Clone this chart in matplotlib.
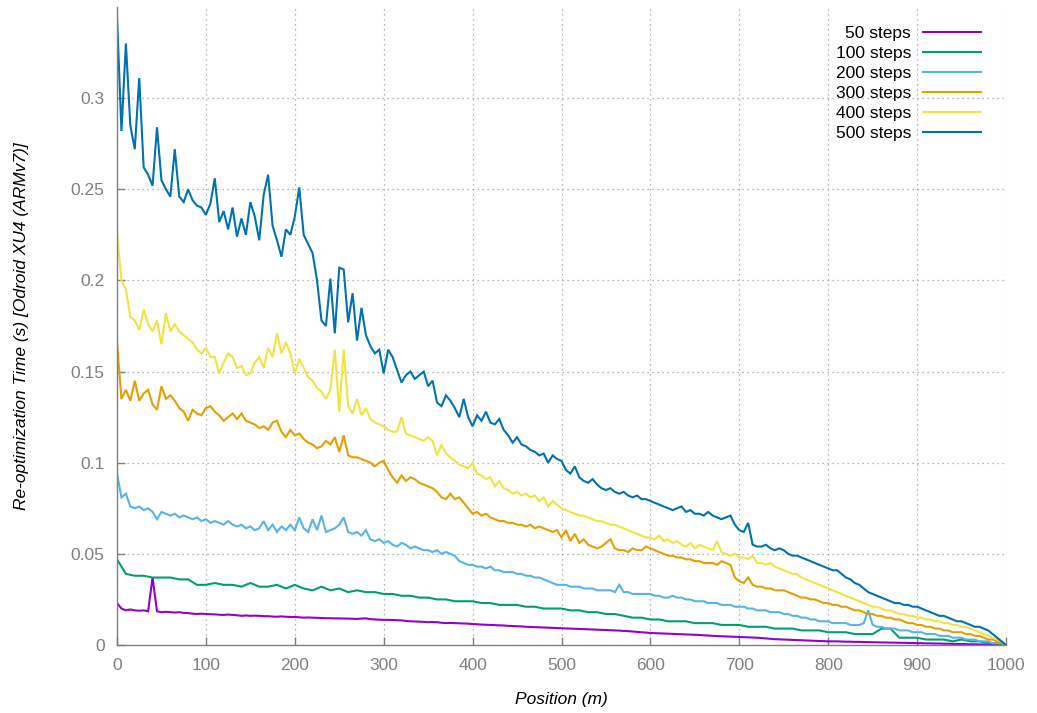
import numpy as np
import matplotlib
matplotlib.use("Agg")
import matplotlib.pyplot as plt

plt.rcParams['font.family'] = ['Liberation Sans', 'DejaVu Sans']

# positions (m)
pos_fine = np.arange(0, 1001, 5)
pos_coarse = np.arange(0, 1001, 10)

labels = ["50 steps", "100 steps", "200 steps", "300 steps", "400 steps", "500 steps"]
colors = ["#9400d3", "#009e73", "#56b4e9", "#e69f00", "#f0e442", "#0072b2"]

steps500 = [
    0.345, 0.282, 0.330, 0.285, 0.272, 0.311, 0.262, 0.258, 0.252, 0.284,
    0.255, 0.250, 0.246, 0.272, 0.246, 0.243, 0.250, 0.244, 0.241, 0.240,
    0.236, 0.242, 0.256, 0.232, 0.238, 0.228, 0.240, 0.224, 0.234, 0.225,
    0.243, 0.235, 0.222, 0.247, 0.258, 0.230, 0.222, 0.213, 0.228, 0.225,
    0.235, 0.251, 0.225, 0.220, 0.215, 0.200, 0.178, 0.175, 0.201, 0.171,
    0.207, 0.206, 0.177, 0.193, 0.167, 0.185, 0.170, 0.164, 0.160, 0.162,
    0.149, 0.162, 0.158, 0.151, 0.144, 0.148, 0.150, 0.146, 0.148, 0.150,
    0.142, 0.145, 0.133, 0.131, 0.137, 0.134, 0.130, 0.125, 0.135, 0.125,
    0.120, 0.126, 0.123, 0.128, 0.122, 0.121, 0.124, 0.118, 0.115, 0.111,
    0.114, 0.110, 0.109, 0.107, 0.106, 0.104, 0.105, 0.100, 0.104, 0.102,
    0.101, 0.096, 0.094, 0.098, 0.092, 0.090, 0.089, 0.091, 0.088, 0.086,
    0.085, 0.086, 0.084, 0.083, 0.084, 0.082, 0.081, 0.082, 0.080, 0.080,
    0.079, 0.078, 0.077, 0.076, 0.075, 0.074, 0.075, 0.076, 0.073, 0.074,
    0.072, 0.072, 0.071, 0.073, 0.071, 0.070, 0.069, 0.070, 0.071, 0.066,
    0.063, 0.062, 0.067, 0.055, 0.054, 0.054, 0.055, 0.053, 0.052, 0.053,
    0.052, 0.050, 0.049, 0.049, 0.048, 0.047, 0.046, 0.045, 0.044, 0.043,
    0.042, 0.041, 0.041, 0.039, 0.037, 0.036, 0.034, 0.033, 0.031, 0.029,
    0.028, 0.027, 0.026, 0.025, 0.024, 0.023, 0.023, 0.022, 0.022, 0.021,
    0.021, 0.020, 0.019, 0.018, 0.017, 0.016, 0.016, 0.015, 0.014, 0.013,
    0.013, 0.012, 0.011, 0.010, 0.010, 0.009, 0.008, 0.006, 0.004, 0.002,
    0.000,
]

steps400 = [
    0.226, 0.200, 0.195, 0.180, 0.178, 0.173, 0.184, 0.176, 0.172, 0.178,
    0.165, 0.182, 0.172, 0.176, 0.172, 0.170, 0.168, 0.166, 0.162, 0.160,
    0.163, 0.158, 0.158, 0.149, 0.155, 0.160, 0.158, 0.152, 0.153, 0.148,
    0.149, 0.155, 0.158, 0.152, 0.163, 0.158, 0.171, 0.160, 0.166, 0.160,
    0.149, 0.157, 0.152, 0.147, 0.145, 0.141, 0.139, 0.135, 0.140, 0.162,
    0.128, 0.162, 0.131, 0.127, 0.135, 0.126, 0.130, 0.124, 0.122, 0.121,
    0.120, 0.118, 0.117, 0.117, 0.125, 0.116, 0.115, 0.114, 0.113, 0.112,
    0.114, 0.112, 0.104, 0.110, 0.105, 0.103, 0.101, 0.099, 0.098, 0.097,
    0.100, 0.094, 0.093, 0.091, 0.092, 0.087, 0.090, 0.086, 0.085, 0.083,
    0.084, 0.082, 0.083, 0.081, 0.082, 0.079, 0.081, 0.076, 0.079, 0.077,
    0.075, 0.074, 0.073, 0.072, 0.071, 0.071, 0.070, 0.069, 0.068, 0.068,
    0.067, 0.066, 0.066, 0.065, 0.064, 0.063, 0.062, 0.061, 0.060, 0.059,
    0.059, 0.058, 0.060, 0.057, 0.058, 0.056, 0.057, 0.055, 0.054, 0.056,
    0.053, 0.055, 0.054, 0.053, 0.052, 0.057, 0.051, 0.050, 0.049, 0.050,
    0.048, 0.048, 0.047, 0.049, 0.045, 0.045, 0.044, 0.045, 0.043, 0.042,
    0.041, 0.040, 0.039, 0.039, 0.037, 0.036, 0.035, 0.034, 0.033, 0.032,
    0.031, 0.030, 0.029, 0.028, 0.027, 0.026, 0.025, 0.024, 0.023, 0.022,
    0.021, 0.021, 0.020, 0.019, 0.019, 0.018, 0.017, 0.017, 0.016, 0.016,
    0.015, 0.015, 0.014, 0.014, 0.013, 0.013, 0.012, 0.012, 0.011, 0.011,
    0.010, 0.010, 0.009, 0.008, 0.007, 0.006, 0.005, 0.004, 0.003, 0.002,
    0.000,
]

steps300 = [
    0.166, 0.135, 0.140, 0.134, 0.145, 0.134, 0.138, 0.140, 0.132, 0.129,
    0.142, 0.135, 0.137, 0.134, 0.130, 0.128, 0.123, 0.129, 0.127, 0.126,
    0.130, 0.131, 0.128, 0.126, 0.123, 0.125, 0.127, 0.124, 0.127, 0.123,
    0.122, 0.121, 0.119, 0.120, 0.118, 0.122, 0.123, 0.117, 0.114, 0.118,
    0.115, 0.116, 0.113, 0.111, 0.110, 0.108, 0.109, 0.112, 0.110, 0.114,
    0.106, 0.115, 0.104, 0.103, 0.103, 0.102, 0.101, 0.100, 0.098, 0.100,
    0.101, 0.096, 0.092, 0.089, 0.093, 0.090, 0.092, 0.091, 0.089, 0.088,
    0.087, 0.086, 0.084, 0.081, 0.080, 0.083, 0.080, 0.081, 0.078, 0.075,
    0.072, 0.073, 0.071, 0.072, 0.070, 0.069, 0.068, 0.068, 0.067, 0.067,
    0.066, 0.066, 0.065, 0.066, 0.064, 0.065, 0.064, 0.063, 0.062, 0.063,
    0.059, 0.063, 0.057, 0.061, 0.056, 0.058, 0.055, 0.054, 0.053, 0.054,
    0.056, 0.058, 0.053, 0.052, 0.052, 0.051, 0.053, 0.052, 0.052, 0.054,
    0.053, 0.052, 0.051, 0.050, 0.049, 0.049, 0.048, 0.048, 0.047, 0.047,
    0.046, 0.046, 0.045, 0.045, 0.045, 0.044, 0.046, 0.045, 0.044, 0.037,
    0.035, 0.034, 0.037, 0.033, 0.032, 0.032, 0.031, 0.031, 0.030, 0.030,
    0.030, 0.029, 0.028, 0.027, 0.026, 0.026, 0.025, 0.025, 0.024, 0.023,
    0.023, 0.022, 0.022, 0.021, 0.021, 0.020, 0.019, 0.019, 0.018, 0.017,
    0.017, 0.016, 0.016, 0.015, 0.015, 0.014, 0.014, 0.013, 0.012, 0.012,
    0.011, 0.011, 0.010, 0.010, 0.009, 0.009, 0.008, 0.008, 0.007, 0.007,
    0.007, 0.006, 0.006, 0.005, 0.005, 0.004, 0.003, 0.003, 0.002, 0.001,
    0.000,
]

steps200 = [
    0.094, 0.081, 0.083, 0.076, 0.075, 0.076, 0.074, 0.075, 0.073, 0.069,
    0.073, 0.072, 0.071, 0.072, 0.070, 0.071, 0.070, 0.069, 0.070, 0.068,
    0.069, 0.067, 0.068, 0.067, 0.066, 0.068, 0.066, 0.065, 0.066, 0.064,
    0.065, 0.063, 0.064, 0.068, 0.063, 0.066, 0.062, 0.065, 0.063, 0.066,
    0.063, 0.070, 0.064, 0.062, 0.069, 0.063, 0.071, 0.062, 0.063, 0.064,
    0.066, 0.070, 0.062, 0.061, 0.062, 0.060, 0.063, 0.058, 0.057, 0.058,
    0.056, 0.057, 0.055, 0.054, 0.056, 0.055, 0.053, 0.054, 0.053, 0.052,
    0.052, 0.051, 0.052, 0.050, 0.051, 0.050, 0.049, 0.046, 0.045, 0.044,
    0.044, 0.043, 0.043, 0.042, 0.043, 0.041, 0.041, 0.040, 0.040, 0.040,
    0.039, 0.039, 0.038, 0.038, 0.037, 0.037, 0.036, 0.035, 0.034, 0.033,
    0.033, 0.033, 0.032, 0.032, 0.032, 0.031, 0.031, 0.031, 0.030, 0.030,
    0.030, 0.030, 0.029, 0.033, 0.029, 0.029, 0.028, 0.028, 0.028, 0.028,
    0.028, 0.027, 0.027, 0.026, 0.026, 0.027, 0.026, 0.026, 0.025, 0.025,
    0.024, 0.024, 0.024, 0.023, 0.023, 0.023, 0.022, 0.022, 0.022, 0.021,
    0.021, 0.021, 0.020, 0.020, 0.019, 0.019, 0.019, 0.018, 0.018, 0.018,
    0.017, 0.017, 0.016, 0.016, 0.015, 0.015, 0.014, 0.014, 0.013, 0.013,
    0.013, 0.012, 0.012, 0.012, 0.012, 0.011, 0.011, 0.011, 0.012, 0.019,
    0.011, 0.010, 0.010, 0.009, 0.009, 0.009, 0.008, 0.008, 0.008, 0.007,
    0.007, 0.007, 0.006, 0.006, 0.006, 0.005, 0.005, 0.005, 0.004, 0.004,
    0.004, 0.003, 0.003, 0.003, 0.002, 0.002, 0.002, 0.001, 0.001, 0.001,
    0.000,
]

steps100 = [
    0.047, 0.039, 0.038, 0.038, 0.037, 0.037, 0.037, 0.036, 0.036, 0.033,
    0.033, 0.034, 0.033, 0.033, 0.032, 0.034, 0.032, 0.032, 0.033, 0.031,
    0.033, 0.031, 0.030, 0.032, 0.030, 0.031, 0.029, 0.030, 0.029, 0.029,
    0.028, 0.028, 0.027, 0.027, 0.026, 0.026, 0.025, 0.025, 0.024, 0.024,
    0.024, 0.023, 0.023, 0.022, 0.022, 0.022, 0.021, 0.021, 0.020, 0.020,
    0.020, 0.019, 0.019, 0.018, 0.018, 0.017, 0.017, 0.016, 0.015, 0.015,
    0.014, 0.014, 0.013, 0.013, 0.013, 0.012, 0.012, 0.012, 0.011, 0.011,
    0.011, 0.010, 0.010, 0.010, 0.009, 0.009, 0.009, 0.008, 0.008, 0.008,
    0.007, 0.007, 0.007, 0.006, 0.006, 0.006, 0.009, 0.009, 0.004, 0.004,
    0.004, 0.003, 0.003, 0.003, 0.002, 0.003, 0.002, 0.002, 0.001, 0.001,
    0.000,
]

steps50 = [
    0.023, 0.020, 0.019, 0.0195, 0.019, 0.0188, 0.019, 0.0185, 0.037, 0.0185,
    0.018, 0.0182, 0.018, 0.0178, 0.018, 0.0176, 0.0175, 0.0172, 0.017, 0.0172,
    0.017, 0.0169, 0.0168, 0.0166, 0.0165, 0.0167, 0.0165, 0.0163, 0.016, 0.0162,
    0.016, 0.0161, 0.016, 0.0158, 0.0158, 0.0156, 0.0155, 0.0157, 0.0155, 0.0154,
    0.0154, 0.0152, 0.015, 0.0151, 0.015, 0.0149, 0.0148, 0.0147, 0.0147, 0.0146,
    0.0146, 0.0145, 0.0145, 0.0144, 0.0143, 0.0145, 0.0146, 0.0142, 0.014, 0.0139,
    0.0138, 0.0138, 0.0137, 0.0136, 0.0135, 0.0132, 0.013, 0.0129, 0.0128, 0.0127,
    0.0125, 0.0126, 0.0125, 0.0122, 0.012, 0.0121, 0.012, 0.0119, 0.0118, 0.0117,
    0.0115, 0.0114, 0.0112, 0.0111, 0.011, 0.0109, 0.0108, 0.0107, 0.0105, 0.0104,
    0.0103, 0.0102, 0.010, 0.0099, 0.0098, 0.0097, 0.0096, 0.0095, 0.0094, 0.0093,
    0.0092, 0.0091, 0.009, 0.0089, 0.0088, 0.0087, 0.0086, 0.0085, 0.0084, 0.0083,
    0.0082, 0.0081, 0.008, 0.0079, 0.0077, 0.0076, 0.0074, 0.0072, 0.0070, 0.0068,
    0.0066, 0.0065, 0.0064, 0.0063, 0.0062, 0.0061, 0.006, 0.0059, 0.0058, 0.0057,
    0.0056, 0.0055, 0.0053, 0.0052, 0.005, 0.0049, 0.0048, 0.0047, 0.0046, 0.0045,
    0.0044, 0.0043, 0.0042, 0.0041, 0.004, 0.0038, 0.0036, 0.0034, 0.0032, 0.0031,
    0.003, 0.0029, 0.0028, 0.0027, 0.0026, 0.0025, 0.0024, 0.0023, 0.0022, 0.0021,
    0.002, 0.002, 0.002, 0.0019, 0.0018, 0.0018, 0.0017, 0.0017, 0.0016, 0.0016,
    0.0015, 0.0015, 0.0014, 0.0014, 0.0013, 0.0013, 0.0012, 0.0012, 0.0011, 0.0011,
    0.001, 0.001, 0.0009, 0.0009, 0.0008, 0.0008, 0.0007, 0.0007, 0.0006, 0.0006,
    0.0005, 0.0005, 0.0004, 0.0004, 0.0003, 0.0003, 0.0002, 0.0002, 0.0001, 0.0001,
    0.0,
]

series = [
    (pos_fine, steps50),
    (pos_coarse, steps100),
    (pos_fine, steps200),
    (pos_fine, steps300),
    (pos_fine, steps400),
    (pos_fine, steps500),
]

fig = plt.figure(figsize=(10.37, 7.13), dpi=100)
ax = fig.add_axes([117 / 1037, 1 - 645 / 713, (1006 - 117) / 1037, (645 - 7) / 713])

for (xs, ys), lab, col in zip(series, labels, colors):
    ax.plot(xs, ys, color=col, lw=1.5, label=lab, solid_joinstyle='miter')

ax.set_xlim(0, 1000)
ax.set_ylim(0, 0.35)
ax.set_xticks(np.arange(0, 1001, 100))
ax.set_yticks([0, 0.05, 0.1, 0.15, 0.2, 0.25, 0.3])
ax.set_yticklabels(["0", "0.05", "0.1", "0.15", "0.2", "0.25", "0.3"])

ax.grid(True, color="#a0a0a0", linestyle=(0, (1, 3)), linewidth=0.9)
ax.set_axisbelow(True)
for s in ["top", "right"]:
    ax.spines[s].set_visible(False)
for s in ["left", "bottom"]:
    ax.spines[s].set_color("#808080")
    ax.spines[s].set_linewidth(1.0)
ax.tick_params(direction="in", length=6, width=1.0, color="#808080",
               labelcolor="#808080", labelsize=12.5, pad=9)

ax.set_xlabel("Position (m)", fontsize=12.5, style="italic", labelpad=14)
ax.set_ylabel("Re-optimization Time (s) [Odroid XU4 (ARMv7)]", fontsize=12.5,
              style="italic", labelpad=30)

ax.legend(loc="upper right", bbox_to_anchor=(0.985, 0.99), frameon=False,
          markerfirst=False, fontsize=12.5, handlelength=3.3, handletextpad=0.7,
          labelspacing=0.28, borderaxespad=0.3)

fig.savefig("out.png", dpi=100)
